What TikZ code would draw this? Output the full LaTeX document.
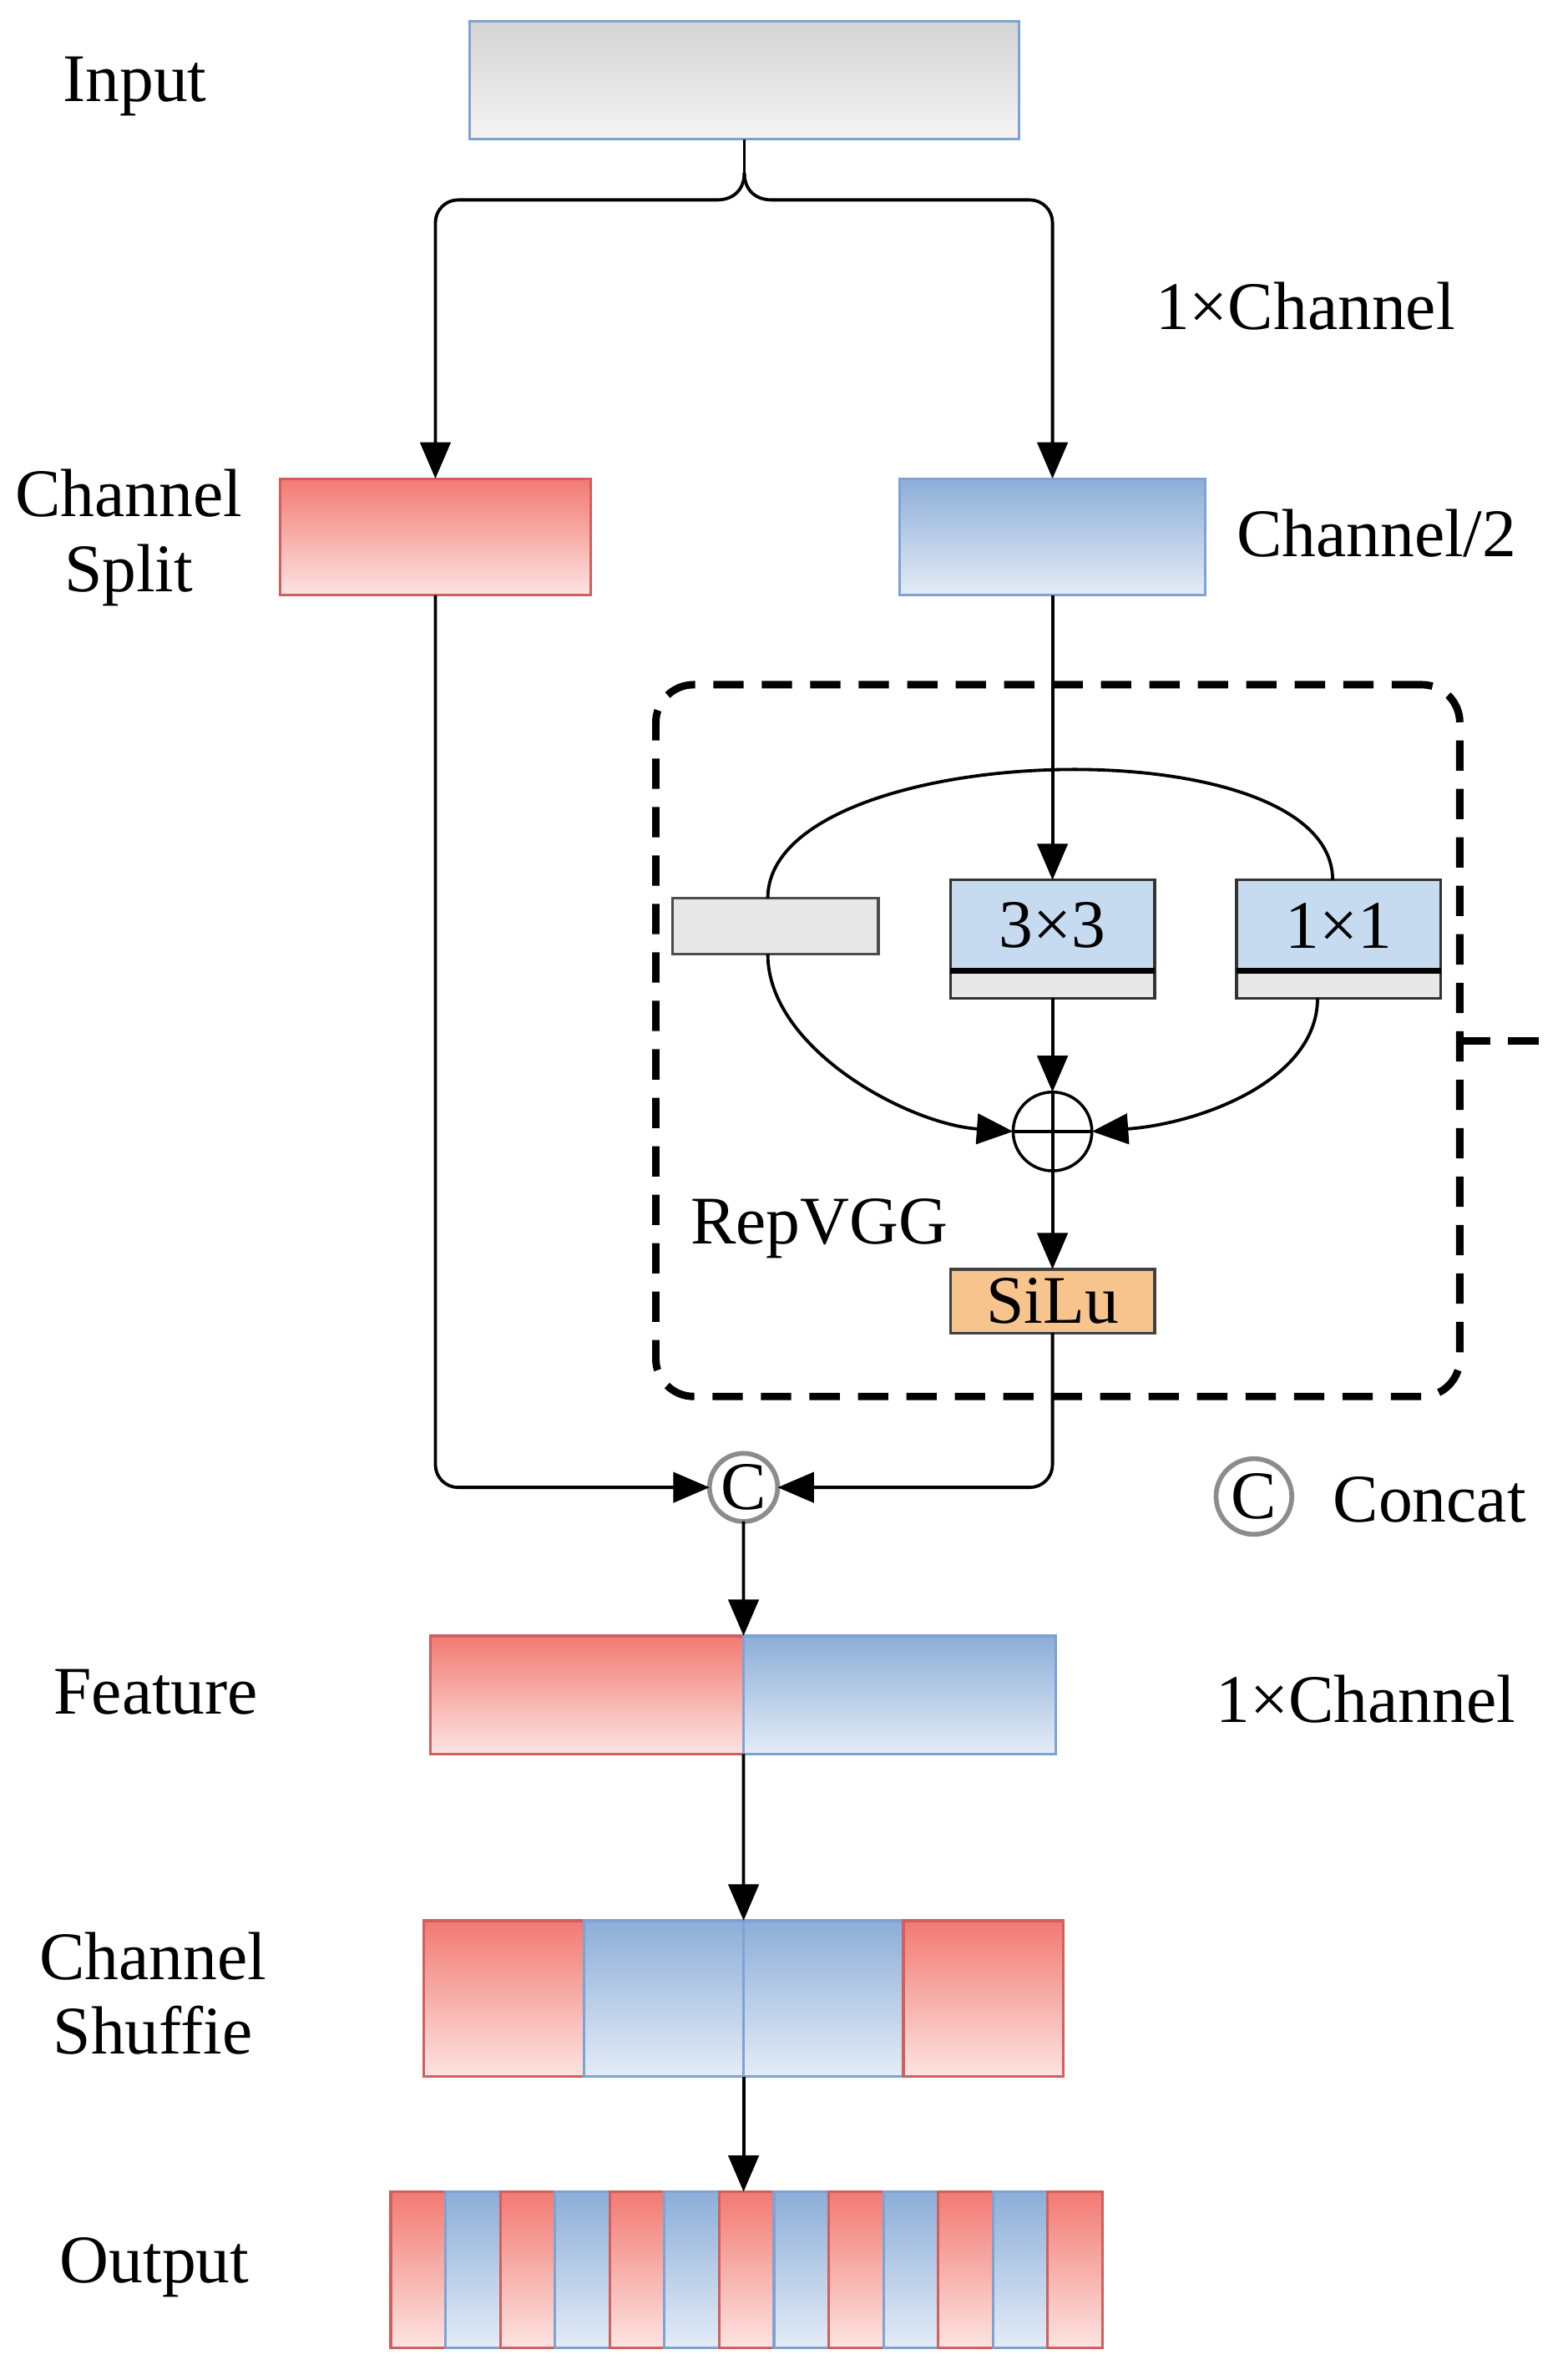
\documentclass[tikz,border=0pt]{standalone}
\usepackage{fontspec}
\setmainfont{Liberation Serif}
\usetikzlibrary{arrows.meta,positioning}

\definecolor{redtop}{HTML}{F27A72}
\definecolor{redbot}{HTML}{FCE4E2}
\definecolor{redline}{HTML}{D0605E}
\definecolor{bluetop}{HTML}{8CAED8}
\definecolor{bluebot}{HTML}{E4ECF7}
\definecolor{blueline}{HTML}{7EA3D3}
\definecolor{graytop}{HTML}{D4D4D4}
\definecolor{graybot}{HTML}{F4F4F4}
\definecolor{convfill}{HTML}{C6DAF0}
\definecolor{bnfill}{HTML}{E8E8E8}
\definecolor{silufill}{HTML}{F8C48E}

\begin{document}
\begin{tikzpicture}[x=0.02cm, y=-0.02cm, >={Triangle[length=0.48cm,width=0.4cm]},
  font=\fontsize{25.6}{28}\selectfont,
  every node/.style={inner sep=0pt, outer sep=0pt},
  redbar/.style={draw=redline, line width=1pt, top color=redtop, bottom color=redbot},
  bluebar/.style={draw=blueline, line width=1pt, top color=bluetop, bottom color=bluebot},
  kernel/.style={draw=black!80, line width=1pt, fill=convfill, minimum width=2.7cm, minimum height=1.2cm},
  bnstrip/.style={draw=black!80, line width=1pt, fill=bnfill, minimum width=2.7cm, minimum height=0.36cm},
  link/.style={line width=1.2pt},
  catcirc/.style={circle, draw=black!45, line width=1.8pt, minimum size=0.9cm},
  dashline/.style={line width=2.8pt, dash pattern=on 0.4cm off 0.24cm}]
  \useasboundingbox (0,0) rectangle (1035,1568);

  % labels on the left and right
  \node at (89,57) {Input};
  \node at (862,202) {1×Channel};
  \node[align=center] at (85,355) {Channel\\Split};
  \node at (909,352) {Channel/2};
  \node at (103,1117) {Feature};
  \node at (902,1122) {1×Channel};
  \node[align=center] at (101,1316) {Channel\\Shuffie};
  \node at (102,1497) {Output};

  \node[draw=blueline, line width=1pt, top color=graytop, bottom color=graybot,
        minimum width=7.26cm, minimum height=1.56cm] (inbox) at (491.5,53) {};
  \node[redbar, minimum width=4.1cm, minimum height=1.54cm] (split) at (287.5,354.5) {};
  \node[bluebar, minimum width=4.04cm, minimum height=1.54cm] (half) at (695,354.5) {};

  % RepVGG block
  \node[draw, dashline, rounded corners=0.5cm, minimum width=10.62cm, minimum height=9.4cm] (rep) at (698.5,687) {};
  \draw[dashline] (rep.east) -- ++(62,0);
  \node[draw=black!70, line width=1pt, fill=bnfill, minimum width=2.72cm, minimum height=0.74cm] (idbox) at (512,611.5) {};
  \node[kernel] (k3) at (695,611) {3×3};
  \node[bnstrip, below=0pt of k3] (b3) {};
  \node[kernel] (k1) at (884,611) {1×1};
  \node[bnstrip, below=0pt of k1] (b1) {};
  \draw[line width=2.2pt] (k3.south west) -- (k3.south east);
  \draw[line width=2.2pt] (k1.south west) -- (k1.south east);
  \node[circle, draw, line width=1.1pt, minimum size=1.04cm] (add) at (695,747) {};
  \draw[link] (add.north) -- (add.south) (add.west) -- (add.east);
  \node[draw=black!75, line width=1pt, fill=silufill, minimum width=2.7cm, minimum height=0.84cm] (silu) at (695,859) {SiLu};
  \node at (541,811) {RepVGG};

  \node[catcirc] (cat) at (491,982) {C};
  \node[catcirc, minimum size=1cm] (catkey) at (828,988) {C};
  \node at (944,990) {Concat};

  \node[redbar, minimum width=4.14cm, minimum height=1.56cm] (featL) at (387.5,1119) {};
  \node[bluebar, minimum width=4.12cm, minimum height=1.56cm, right=0pt of featL] (featR) {};

  \foreach \c [count=\i from 0] in {redbar,bluebar,bluebar,redbar}
    \node[\c, minimum width=2.11cm, minimum height=2.06cm] (sh\i) at (332.75+105.5*\i,1319.5) {};

  \foreach \i in {0,...,12}{
    \ifodd\i\relax\def\stripe{bluebar}\else\def\stripe{redbar}\fi
    \node[\stripe, minimum width=0.723cm, minimum height=2.06cm] (o\i) at (276.1+36.15*\i,1498.5) {};
  }

  % connectors
  \draw[link] (inbox.south) -- ++(0,22) coordinate (fork);
  \draw[link] (fork) .. controls +(0,12) and +(10,0) .. ++(-18,18) coordinate (forkL);
  \draw[link] (fork) .. controls +(0,12) and +(-10,0) .. ++(18,18) coordinate (forkR);
  \draw[link,->,rounded corners=0.3cm] (forkL) -| (split.north);
  \draw[link,->,rounded corners=0.3cm] (forkR) -| (half.north);
  \draw[link,->] (half.south) -- (k3.north);
  \draw[link] ([xshift=-0.1cm]idbox.north) .. controls +(0,-105) and +(0,-105) .. ([xshift=-0.08cm]k1.north);
  \draw[link,->] ([xshift=-0.1cm]idbox.south) .. controls +(0,62) and +(-70,-5) .. (add.west);
  \draw[link,->] ([xshift=-0.28cm]b1.south) .. controls +(0,55) and +(70,-5) .. (add.east);
  \draw[link,->] (b3.south) -- (add.north);
  \draw[link,->] (add.south) -- (silu.north);
  \draw[link,->,rounded corners=0.3cm] (silu.south) |- (cat.east);
  \draw[link,->,rounded corners=0.3cm] (split.south) |- (cat.west);
  \draw[link,->] (cat.south) -- (featL.north east);
  \draw[link,->] (featL.south east) -- (sh2.north west);
  \draw[link,->] (sh2.south west) -- (sh2.south west |- o6.north);
\end{tikzpicture}
\end{document}
